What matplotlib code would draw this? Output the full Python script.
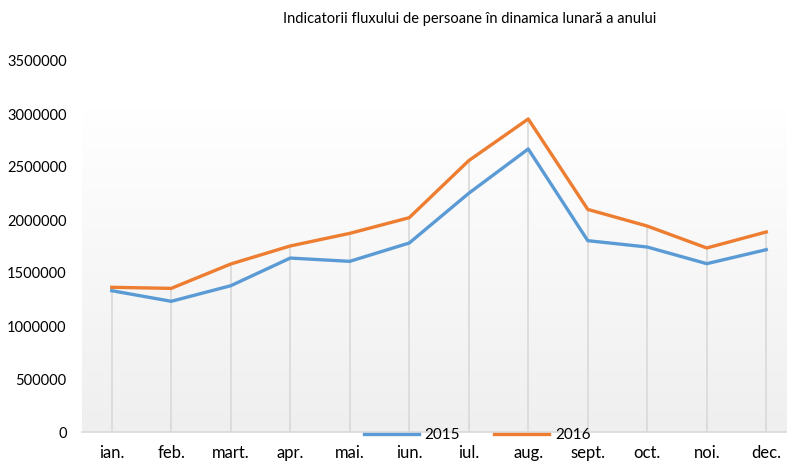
# Indicatorii fluxului de persoane - line chart 2015 vs 2016
import numpy as np
import matplotlib.pyplot as plt

# month labels (romanian)
months = ["ian.", "feb.", "mart.", "apr.", "mai.", "iun.", "iul.", "aug.",
          "sept.", "oct.", "noi.", "dec."]

# values
v2015 = [1333000, 1233000, 1380000, 1641000, 1610000, 1783000,
         2252000, 2670000, 1805000, 1745000, 1588000, 1720000]
v2016 = [1365000, 1355000, 1585000, 1755000, 1874000, 2022000,
         2560000, 2953000, 2100000, 1943000, 1736000, 1887000]

yticks = [0, 500000, 1000000, 1500000, 2000000, 2500000, 3000000, 3500000]

plt.rcParams['font.family'] = ['Lato', 'DejaVu Sans']

fig = plt.figure(figsize=(7.87, 4.61), dpi=100)
ax = fig.add_axes([82 / 787, 29 / 461, 714 / 787, 371 / 461])

x = np.arange(len(months))

# light grey gradient behind the plot area
grad = np.linspace(0, 1, 256).reshape(-1, 1)
ax.imshow(grad, cmap=plt.matplotlib.colors.LinearSegmentedColormap.from_list(
    "g", ["#efefef", "#ffffff"]), aspect="auto", origin="lower",
    extent=(-0.5, 11.5, 0, 3057000), zorder=0)

# drop lines from the highest point down to the axis
tops = np.maximum(v2015, v2016)
ax.vlines(x, 0, tops, color="#d9d9d9", linewidth=1.2, zorder=1)

ax.plot(x, v2015, color="#5b9bd5", linewidth=2.4, label="2015", zorder=3)
ax.plot(x, v2016, color="#ed7d31", linewidth=2.4, label="2016", zorder=3)

ax.set_xlim(-0.5, 11.5)
ax.set_ylim(0, 3500000)
ax.set_xticks(x)
ax.set_xticklabels(months)
ax.set_yticks(yticks)
ax.set_yticklabels([str(t) for t in yticks])
ax.tick_params(axis="both", length=0, colors="#000000")
ax.tick_params(axis="x", pad=9, labelsize=12)
ax.tick_params(axis="y", pad=11, labelsize=10.5)

for s in ["top", "right", "left"]:
    ax.spines[s].set_visible(False)
ax.spines["bottom"].set_color("#d9d9d9")
ax.spines["bottom"].set_linewidth(1.2)
ax.patch.set_alpha(0)

fig.text(470 / 787, 1 - 19 / 461, "Indicatorii fluxului de persoane în dinamica lunară a anului",
         ha="center", va="center", fontsize=10.5)

fig.legend(loc="center", bbox_to_anchor=(477 / 787, 1 - 435 / 461), ncol=2,
           frameon=False, fontsize=11, handlelength=3.6, handletextpad=0.4,
           columnspacing=2.2, borderpad=0)

fig.savefig("out.png", dpi=100)
